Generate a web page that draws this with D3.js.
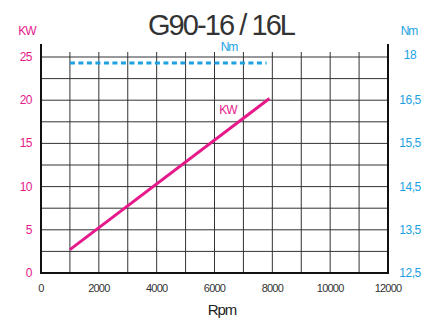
<!DOCTYPE html>
<html>
<head>
<meta charset="utf-8">
<script src="https://cdn.jsdelivr.net/npm/d3@7"></script>
<style>
  body { margin: 0; background: #fff; }
  text { font-family: "Liberation Sans", Arial, sans-serif; }
</style>
</head>
<body>
<div id="chart"></div>
<script>
// data
const rpm = [1000, 7900];
const kw = [2.7, 20.2];
const nmRpm = [1000, 7800];
const nm = [17.36, 17.36];
const xTicks = [0, 2000, 4000, 6000, 8000, 10000, 12000];
const kwTicks = [0, 5, 10, 15, 20, 25];
const nmTicks = [12.5, 13.5, 14.5, 15.5, 16.5, 17.5];
const nmTickLabels = ["12,5", "13,5", "14,5", "15,5", "16,5", "18"];

const pink = "#e6198a";
const blue = "#1ba1e2";

const W = 437, H = 325;
const margin = { top: 57, right: 49, bottom: 52, left: 41 };

const svg = d3.select("#chart").append("svg")
    .attr("width", W)
    .attr("height", H);

const x = d3.scaleLinear().domain([0, 12000]).range([margin.left, W - margin.right]);
const y = d3.scaleLinear().domain([0, 25]).range([H - margin.bottom, margin.top]);
const y2 = d3.scaleLinear().domain([12.5, 17.5]).range([H - margin.bottom, margin.top]);

// grid
const grid = svg.append("g").attr("stroke", "#333").attr("stroke-width", 1);
grid.selectAll(".h")
    .data(d3.range(0, 25.01, 2.5))
    .enter().append("line")
    .attr("x1", x(0)).attr("x2", x(12000))
    .attr("y1", d => y(d)).attr("y2", d => y(d));
grid.selectAll(".v")
    .data(d3.range(1000, 12000, 1000))
    .enter().append("line")
    .attr("x1", d => x(d)).attr("x2", d => x(d))
    .attr("y1", y(0)).attr("y2", y(25) - 5);

// axes lines
svg.append("line").attr("x1", x(0)).attr("x2", x(0))
    .attr("y1", y(0)).attr("y2", y(25) - 13)
    .attr("stroke", "#111").attr("stroke-width", 2);
svg.append("line").attr("x1", x(12000)).attr("x2", x(12000))
    .attr("y1", y(0)).attr("y2", y(25) - 13)
    .attr("stroke", "#111").attr("stroke-width", 2);
svg.append("line").attr("x1", x(0) - 1).attr("x2", x(12000) + 1)
    .attr("y1", y(0)).attr("y2", y(0))
    .attr("stroke", "#111").attr("stroke-width", 2);

// left ticks
svg.append("g").selectAll("text")
    .data(kwTicks)
    .enter().append("text")
    .attr("x", 32).attr("y", d => y(d) + 4)
    .attr("text-anchor", "end")
    .attr("fill", pink)
    .attr("font-size", 12)
    .attr("letter-spacing", -0.5)
    .text(d => d);

// right ticks
svg.append("g").selectAll("text")
    .data(nmTicks)
    .enter().append("text")
    .attr("x", 410).attr("y", (d, i) => y2(d) + 4 - (i == 5 ? 2 : 0))
    .attr("text-anchor", "middle")
    .attr("fill", blue)
    .attr("font-size", 12)
    .attr("letter-spacing", -0.5)
    .text((d, i) => nmTickLabels[i]);

// bottom ticks
svg.append("g").selectAll("text")
    .data(xTicks)
    .enter().append("text")
    .attr("x", d => x(d)).attr("y", 292)
    .attr("text-anchor", "middle")
    .attr("fill", "#333")
    .attr("font-size", 11)
    .attr("letter-spacing", -0.8)
    .text(d => d);

// lines
const line = d3.line();
svg.append("path")
    .attr("d", line(nmRpm.map((r, i) => [x(r), y2(nm[i])])))
    .attr("fill", "none")
    .attr("stroke", blue)
    .attr("stroke-width", 3)
    .attr("stroke-dasharray", "5,3.5");
svg.append("path")
    .attr("d", line(rpm.map((r, i) => [x(r), y(kw[i])])))
    .attr("fill", "none")
    .attr("stroke", pink)
    .attr("stroke-width", 3);

// labels
svg.append("text").attr("x", 222).attr("y", 35)
    .attr("text-anchor", "middle")
    .attr("fill", "#333").attr("font-size", 29)
    .attr("textLength", 148).attr("lengthAdjust", "spacing")
    .text("G90-16 / 16L");
svg.append("text").attr("x", 27).attr("y", 35)
    .attr("text-anchor", "middle").attr("fill", pink).attr("font-size", 12)
    .attr("letter-spacing", -1).text("KW");
svg.append("text").attr("x", 409).attr("y", 35)
    .attr("text-anchor", "middle").attr("fill", blue).attr("font-size", 12)
    .attr("letter-spacing", -1).text("Nm");
svg.append("text").attr("x", 229).attr("y", 51)
    .attr("text-anchor", "middle").attr("fill", blue).attr("font-size", 12)
    .attr("letter-spacing", -1).text("Nm");
svg.append("text").attr("x", 228).attr("y", 114)
    .attr("text-anchor", "middle").attr("fill", pink).attr("font-size", 12)
    .attr("letter-spacing", -1).text("KW");
svg.append("text").attr("x", 222).attr("y", 315)
    .attr("text-anchor", "middle").attr("fill", "#222").attr("font-size", 15)
    .attr("letter-spacing", -1).text("Rpm");
</script>
</body>
</html>
